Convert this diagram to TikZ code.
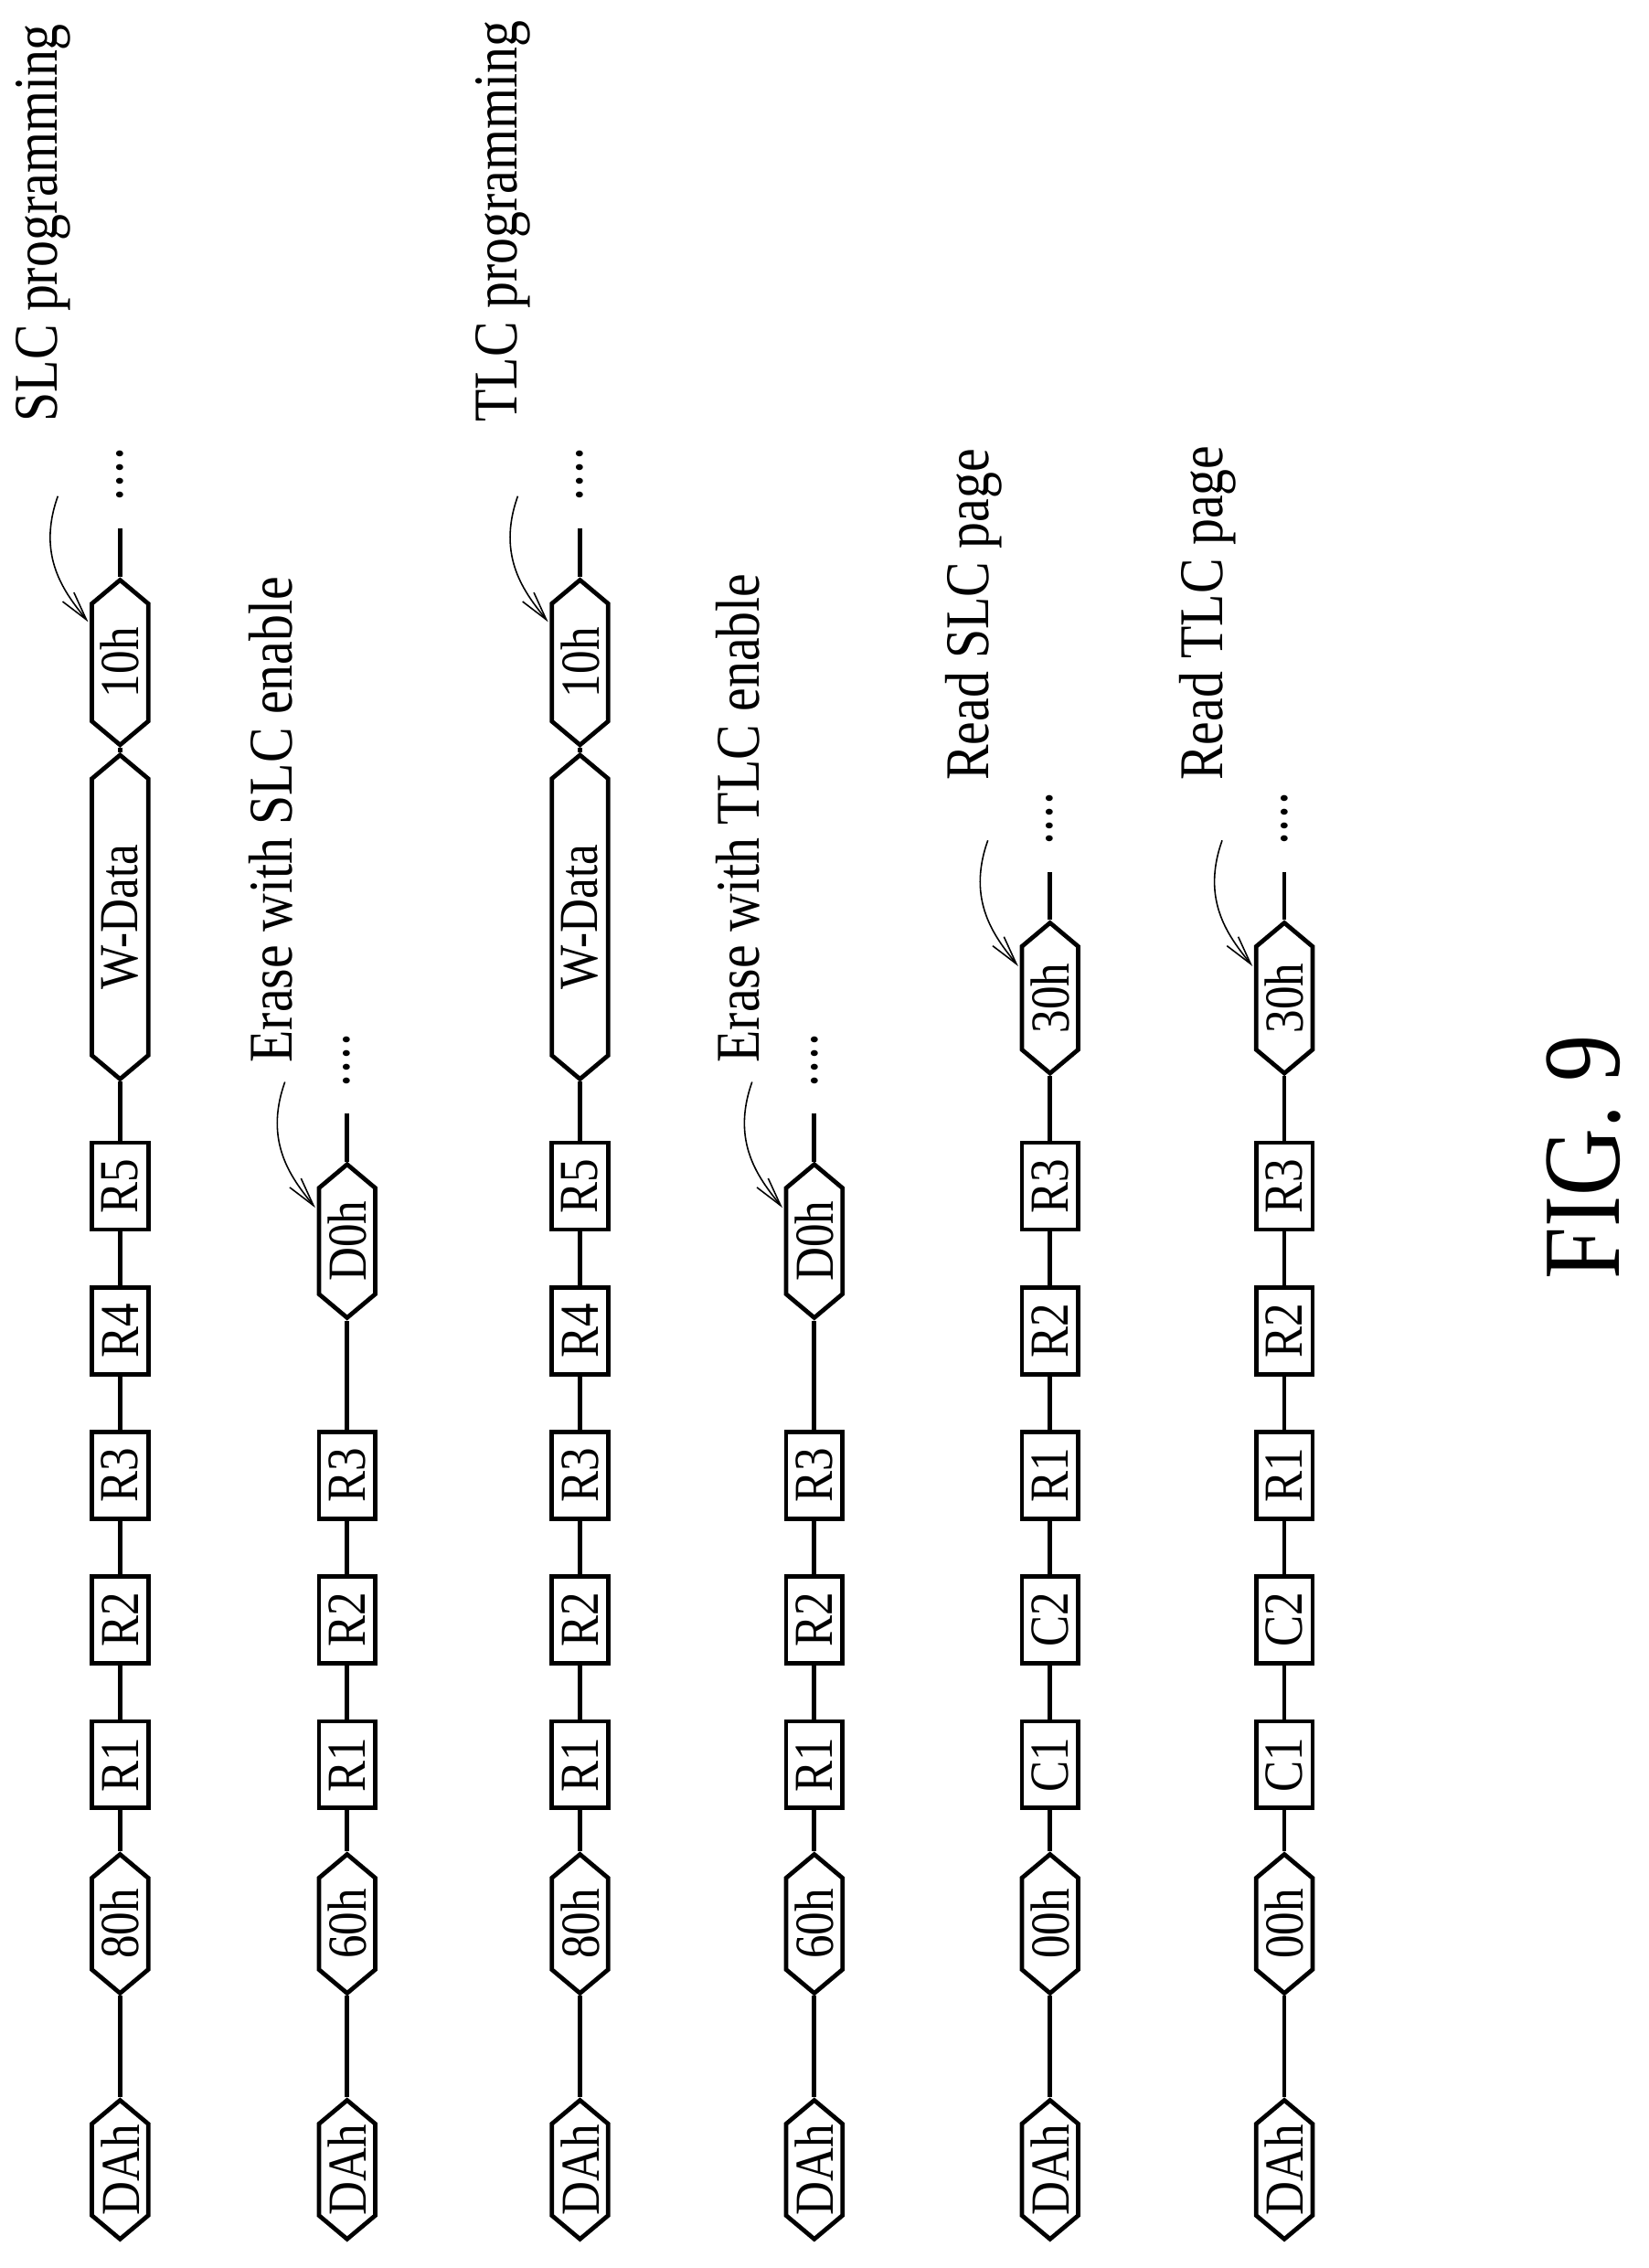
\documentclass[tikz,border=0pt]{standalone}
\usepackage{fontspec}
\setmainfont[FakeStretch=0.85]{Liberation Serif}
\usetikzlibrary{shapes.symbols,arrows.meta}
\tikzset{
  el/.style={draw,line width=1.5pt,rotate=90,inner sep=0pt,minimum height=19.5pt,font=\fontsize{19}{19}\selectfont},
  box/.style={el,rectangle,minimum width=30pt},
  hex/.style={el,signal,signal to=east and west,signal pointer angle=100},
  ln/.style={line width=1.5pt},
  dots/.style={rotate=90,inner sep=0pt,font=\fontsize{15}{15}\selectfont\bfseries},
  lab/.style={rotate=90,anchor=west,inner sep=0pt,font=\fontsize{21.5}{21.5}\selectfont},
  arr/.style={line width=0.5pt,-{Straight Barb[length=10pt,width=5pt]}}
}
\newcommand{\mydots}{.\kern1.5pt.\kern1.5pt.\kern1.5pt.}
\newcommand{\tailpart}[6]{% x, prefix, top-tip y, last node, label, label bottom y
  \coordinate (#2e) at (#1,#3-35);
  \draw[ln] (#4.east) -- (#2e);
  \node[dots] (#2d) at (#1,#3-72) {\mydots};
  \node[lab] (#2l) at (#1-53,#6) {#5};
  \coordinate (#2s) at (#1-43,#3-57);
  \coordinate (#2t) at (#1-22,#3+30);
  \draw[arr] (#2s) .. controls (#1-58,#3-15) and (#1-38,#3+10) .. (#2t);
}
\newcommand{\progcol}[3]{%
  \node[hex,minimum width=48pt] (#2a) at (#1,1500) {DAh};
  \node[hex,minimum width=48pt] (#2b) at (#1,1330) {80h};
  \node[box] (#2c) at (#1,1220) {R1};
  \node[box] (#2f) at (#1,1120) {R2};
  \node[box] (#2g) at (#1,1020) {R3};
  \node[box] (#2j) at (#1,920) {R4};
  \node[box] (#2k) at (#1,820) {R5};
  \node[hex,minimum width=112pt] (#2h) at (#1,634) {W-Data};
  \node[hex,minimum width=57pt] (#2i) at (#1,458) {10h};
  \draw[ln] (#2a.east)--(#2b.west) (#2b.east)--(#2c.west) (#2c.east)--(#2f.west)
    (#2f.east)--(#2g.west) (#2g.east)--(#2j.west) (#2j.east)--(#2k.west)
    (#2k.east)--(#2h.west) (#2h.east)--(#2i.west);
  \tailpart{#1}{#2}{400}{#2i}{#3}{292}
}
\newcommand{\erasecol}[3]{%
  \node[hex,minimum width=48pt] (#2a) at (#1,1500) {DAh};
  \node[hex,minimum width=48pt] (#2b) at (#1,1330) {60h};
  \node[box] (#2c) at (#1,1220) {R1};
  \node[box] (#2f) at (#1,1120) {R2};
  \node[box] (#2g) at (#1,1020) {R3};
  \node[hex,minimum width=53pt] (#2i) at (#1,858) {D0h};
  \draw[ln] (#2a.east)--(#2b.west) (#2b.east)--(#2c.west) (#2c.east)--(#2f.west)
    (#2f.east)--(#2g.west) (#2g.east)--(#2i.west);
  \tailpart{#1}{#2}{805}{#2i}{#3}{735}
}
\newcommand{\readcol}[3]{%
  \node[hex,minimum width=48pt] (#2a) at (#1,1500) {DAh};
  \node[hex,minimum width=48pt] (#2b) at (#1,1330) {00h};
  \node[box] (#2c) at (#1,1220) {C1};
  \node[box] (#2f) at (#1,1120) {C2};
  \node[box] (#2g) at (#1,1020) {R1};
  \node[box] (#2j) at (#1,920) {R2};
  \node[box] (#2k) at (#1,820) {R3};
  \node[hex,minimum width=52pt] (#2i) at (#1,690) {30h};
  \draw[ln] (#2a.east)--(#2b.west) (#2b.east)--(#2c.west) (#2c.east)--(#2f.west)
    (#2f.east)--(#2g.west) (#2g.east)--(#2j.west) (#2j.east)--(#2k.west)
    (#2k.east)--(#2i.west);
  \tailpart{#1}{#2}{638}{#2i}{#3}{540}
}
\begin{document}
\begin{tikzpicture}[x=0.5pt,y=-0.5pt]
\useasboundingbox (0,0) rectangle (1140,1568);
\progcol{83}{p}{SLC programming}
\erasecol{240}{q}{Erase with SLC enable}
\progcol{401}{r}{TLC programming}
\erasecol{563}{s}{Erase with TLC enable}
\readcol{726}{t}{Read SLC page}
\readcol{888}{u}{Read TLC page}
\node[rotate=90,font=\fontsize{38}{38}\selectfont] (fig) at (1095,800) {FIG. 9};
\end{tikzpicture}
\end{document}
